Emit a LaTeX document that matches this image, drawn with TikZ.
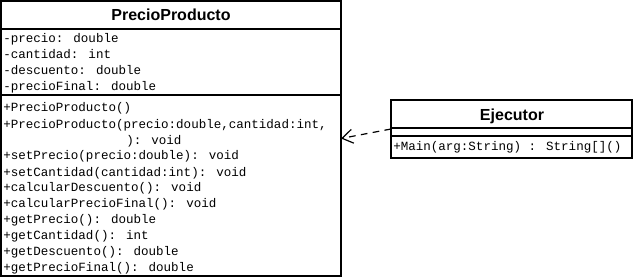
\documentclass[tikz,border=0pt]{standalone}
\usepackage{fontspec}
\setmainfont{Liberation Sans}
\newfontfamily\umlmono{Liberation Mono}
\usetikzlibrary{arrows.meta}
\begin{document}
\begin{tikzpicture}[x=0.75pt,y=-0.75pt,
  classbox/.style={draw=black, line width=1.4pt, fill=white, inner sep=0pt, outer sep=0pt},
  divider/.style={draw=black, line width=1.4pt},
  classname/.style={font=\fontsize{12}{14}\selectfont\bfseries, inner sep=0pt},
  member/.style={font=\umlmono\fontsize{9.4}{11}\selectfont, anchor=base west, inner sep=0pt},
  dependency/.style={draw=black, line width=0.9pt, dash pattern=on 5pt off 4pt,
    -{Straight Barb[length=8pt, width=10.5pt, line width=0.9pt]}}
]
\useasboundingbox (0,0) rectangle (636,278);

% class PrecioProducto
\node[classbox, minimum width=255pt, minimum height=206.25pt] (pp) at (171,138.5) {};
\node[classname] (ppname) at (171,15) {PrecioProducto};
\draw[divider] (pp.west |- 0,29) -- (pp.east |- 0,29);
\draw[divider] (pp.west |- 0,95) -- (pp.east |- 0,95);

\node[member] (a1) at (3,43) {-precio: double};
\node[member] (a2) at (3,59) {-cantidad: int};
\node[member] (a3) at (3,75) {-descuento: double};
\node[member] (a4) at (3,91) {-precioFinal: double};

\node[member] (m1)  at (3,112)   {+PrecioProducto()};
\node[member] (m2)  at (3,128)   {+PrecioProducto(precio:double,cantidad:int,};
\node[member] (m2b) at (126,144) {): void};
\node[member] (m3)  at (3,160)   {+setPrecio(precio:double): void};
\node[member] (m4)  at (3,176)   {+setCantidad(cantidad:int): void};
\node[member] (m5)  at (3,191.5) {+calcularDescuento(): void};
\node[member] (m6)  at (3,207.5) {+calcularPrecioFinal(): void};
\node[member] (m7)  at (3,223.5) {+getPrecio(): double};
\node[member] (m8)  at (3,239)   {+getCantidad(): int};
\node[member] (m9)  at (3,255)   {+getDescuento(): double};
\node[member] (m10) at (3,271)   {+getPrecioFinal(): double};

% class Ejecutor
\node[classbox, minimum width=180.75pt, minimum height=43.5pt] (ej) at (511.5,129) {};
\node[classname] (ejname) at (512,116) {Ejecutor};
\draw[divider] (ej.west |- 0,128) -- (ej.east |- 0,128);
\draw[divider] (ej.west |- 0,136) -- (ej.east |- 0,136);
\node[member] (e1) at (393,151) {+Main(arg:String) : String[]()};

% dependency Ejecutor -> PrecioProducto
\draw[dependency] (ej.west) -- (pp.east);
\end{tikzpicture}
\end{document}
